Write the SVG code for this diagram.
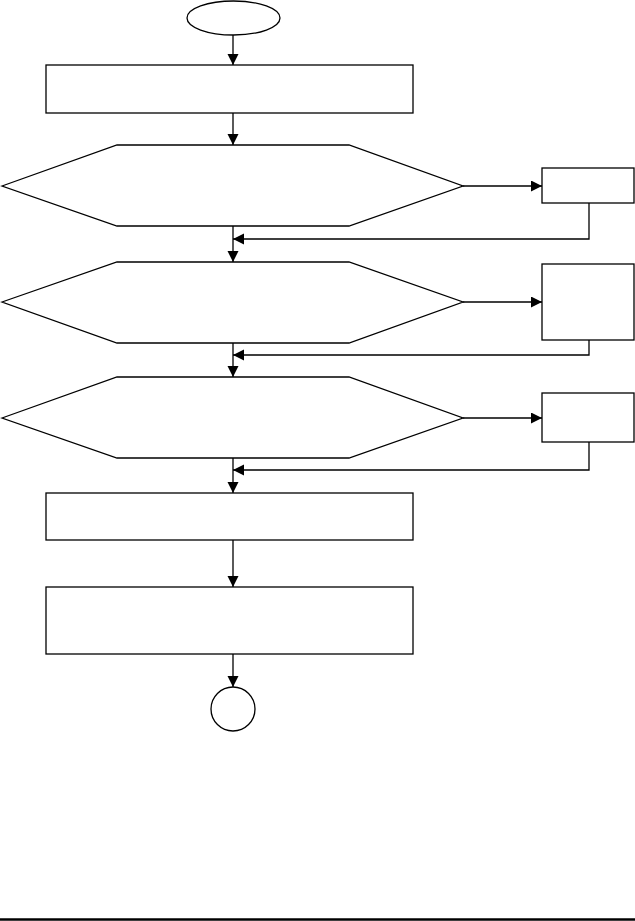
<svg xmlns="http://www.w3.org/2000/svg" width="635" height="921" viewBox="0 0 635 921">
<style>
.s{fill:#fff;stroke:#000;stroke-width:1.3}
.c{fill:none;stroke:#000;stroke-width:1.3}
</style>
<defs>
<marker id="ah" markerUnits="userSpaceOnUse" markerWidth="12" markerHeight="12" refX="11" refY="5.5" orient="auto">
<path d="M0,0 L11,5.5 L0,11 Z" fill="#000"/>
</marker>
</defs>
<rect width="635" height="921" fill="#fff"/>
<g id="start"><ellipse class="s" cx="233.5" cy="18" rx="46.5" ry="17"/></g>
<g id="step1"><rect class="s" x="46" y="65" width="367" height="48"/></g>
<g id="dec1"><polygon class="s" points="2,186 117,145 349,145 463,186 349,226 117,226"/></g>
<g id="box1"><rect class="s" x="542" y="168" width="92" height="35"/></g>
<g id="dec2"><polygon class="s" points="2,302 117,262 349,262 463,302 349,343 117,343"/></g>
<g id="box2"><rect class="s" x="542" y="264" width="92" height="76"/></g>
<g id="dec3"><polygon class="s" points="2,418 117,377 349,377 463,418 349,458 117,458"/></g>
<g id="box3"><rect class="s" x="542" y="393" width="92" height="49"/></g>
<g id="step2"><rect class="s" x="46" y="493" width="367" height="47"/></g>
<g id="step3"><rect class="s" x="46" y="587" width="367" height="67"/></g>
<g id="end"><circle class="s" cx="233" cy="709" r="22"/></g>
<g id="connectors">
<line class="c" x1="233" y1="35" x2="233" y2="65" marker-end="url(#ah)"/>
<line class="c" x1="233" y1="113" x2="233" y2="145" marker-end="url(#ah)"/>
<line class="c" x1="463" y1="186" x2="542" y2="186" marker-end="url(#ah)"/>
<polyline class="c" points="589,203 589,239 233,239" marker-end="url(#ah)"/>
<line class="c" x1="233" y1="226" x2="233" y2="262" marker-end="url(#ah)"/>
<line class="c" x1="463" y1="302" x2="542" y2="302" marker-end="url(#ah)"/>
<polyline class="c" points="589,340 589,355 233,355" marker-end="url(#ah)"/>
<line class="c" x1="233" y1="343" x2="233" y2="377" marker-end="url(#ah)"/>
<line class="c" x1="463" y1="418" x2="542" y2="418" marker-end="url(#ah)"/>
<polyline class="c" points="589,442 589,470 233,470" marker-end="url(#ah)"/>
<line class="c" x1="233" y1="458" x2="233" y2="493" marker-end="url(#ah)"/>
<line class="c" x1="233" y1="540" x2="233" y2="587" marker-end="url(#ah)"/>
<line class="c" x1="233" y1="654" x2="233" y2="687" marker-end="url(#ah)"/>
</g>
<line x1="0" y1="919.5" x2="635" y2="919.5" stroke="#000" stroke-width="2.5"/>
</svg>
